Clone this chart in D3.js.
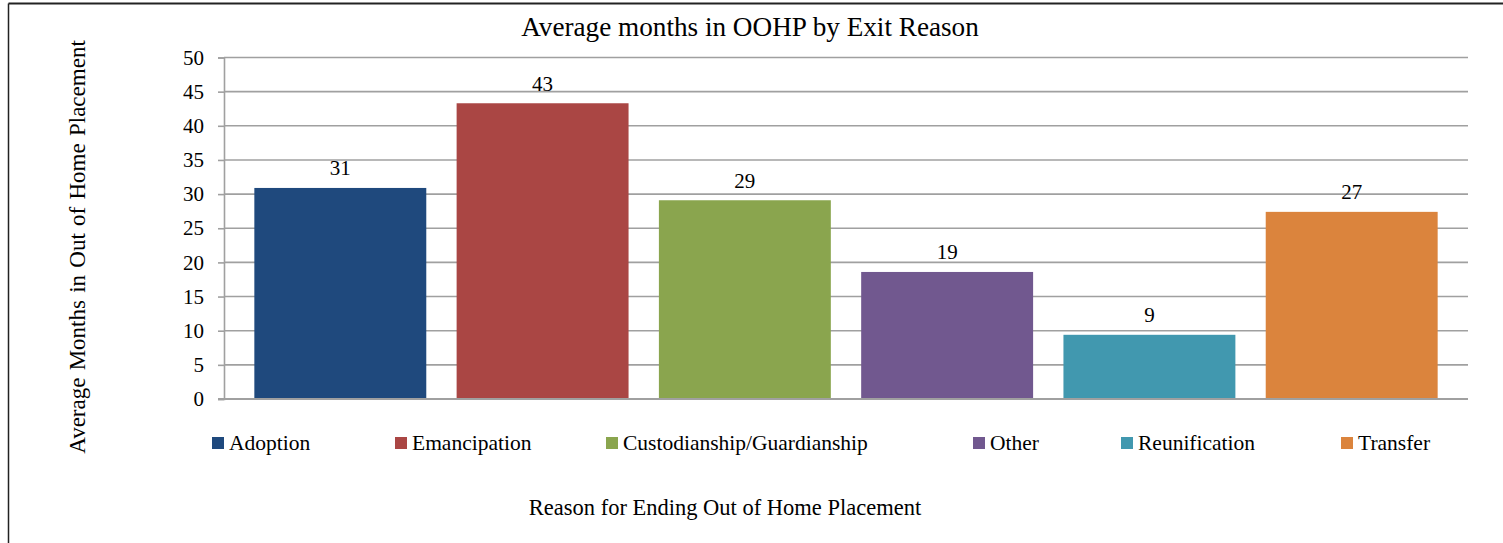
<!DOCTYPE html>
<html>
<head>
<meta charset="utf-8">
<script src="https://cdn.jsdelivr.net/npm/d3@7"></script>
<style>
  html, body { margin: 0; padding: 0; background: #fff; }
  svg { display: block; }
  text { font-family: "Liberation Serif", "Times New Roman", serif; fill: #000; }
</style>
</head>
<body>
<svg id="chart" width="1503" height="543"></svg>
<script>
// ---- data ----
const categories = ["Adoption", "Emancipation", "Custodianship/Guardianship", "Other", "Reunification", "Transfer"];
const values = [30.9, 43.3, 29.1, 18.6, 9.4, 27.4];
const valueLabels = ["31", "43", "29", "19", "9", "27"];
const colors = ["#1F497D", "#AA4644", "#8AA54E", "#71588F", "#4198AF", "#DB843D"];
const yTicks = [0, 5, 10, 15, 20, 25, 30, 35, 40, 45, 50];
const titleText = "Average months in OOHP by Exit Reason";
const yTitle = "Average Months in Out of Home Placement";
const xTitle = "Reason for Ending Out of Home Placement";

// ---- layout ----
const W = 1503, H = 543;
const plot = { left: 224, right: 1468, top: 57.5, bottom: 399 };
const legendX = [212, 395, 606, 973, 1121, 1341];
const legendY = 443;

const svg = d3.select("#chart");

// outer chart border (only top & left visible in frame)
svg.append("line").attr("x1", 8.5).attr("x2", W).attr("y1", 3.5).attr("y2", 3.5)
  .attr("stroke", "#222").attr("stroke-width", 2);
svg.append("line").attr("x1", 8.5).attr("x2", 8.5).attr("y1", 3.5).attr("y2", H)
  .attr("stroke", "#222").attr("stroke-width", 1.5);

const x = d3.scaleBand().domain(categories).range([plot.left, plot.right])
  .paddingInner(0.15).paddingOuter(0.15);
const y = d3.scaleLinear().domain([0, 50]).range([plot.bottom, plot.top]);

// gridlines
svg.append("g").selectAll("line").data(yTicks).join("line")
  .attr("x1", plot.left).attr("x2", plot.right)
  .attr("y1", d => y(d)).attr("y2", d => y(d))
  .attr("stroke", "#A0A0A0").attr("stroke-width", 1.6);

// y axis
const yAxis = d3.axisLeft(y).tickValues(yTicks).tickSize(6).tickPadding(14);
const gy = svg.append("g").attr("transform", `translate(${plot.left},0)`).call(yAxis);
gy.select(".domain").attr("stroke", "#A0A0A0").attr("stroke-width", 1.6);
gy.selectAll(".tick line").attr("stroke", "#A0A0A0").attr("stroke-width", 1.6);
gy.selectAll(".tick text").style("font-family", '"Liberation Serif", "Times New Roman", serif')
  .style("font-size", "21px").attr("fill", "#000");

// bars
svg.append("g").selectAll("rect").data(categories).join("rect")
  .attr("x", d => x(d)).attr("width", x.bandwidth())
  .attr("y", (d, i) => y(values[i])).attr("height", (d, i) => y(0) - y(values[i]))
  .attr("fill", (d, i) => colors[i]);

// baseline on top of bars
svg.append("line").attr("x1", plot.left - 6).attr("x2", plot.right)
  .attr("y1", y(0)).attr("y2", y(0)).attr("stroke", "#A0A0A0").attr("stroke-width", 1.8);

// value labels
svg.append("g").selectAll("text").data(categories).join("text")
  .attr("x", d => x(d) + x.bandwidth() / 2)
  .attr("y", (d, i) => y(values[i]) - 12.5)
  .attr("text-anchor", "middle").style("font-size", "21px")
  .text((d, i) => valueLabels[i]);

// title
svg.append("text").attr("x", 750).attr("y", 36).attr("text-anchor", "middle")
  .style("font-size", "27.2px").text(titleText);

// y axis title
svg.append("text").attr("transform", `translate(85,247) rotate(-90)`)
  .attr("text-anchor", "middle").style("font-size", "23px")
  .style("word-spacing", "1.5px").text(yTitle);

// x axis title
svg.append("text").attr("x", 725).attr("y", 515).attr("text-anchor", "middle")
  .style("font-size", "22.5px").text(xTitle);

// legend
const lg = svg.append("g").selectAll("g").data(categories).join("g")
  .attr("transform", (d, i) => `translate(${legendX[i]},${legendY})`);
lg.append("rect").attr("x", 0).attr("y", -6).attr("width", 12).attr("height", 12)
  .attr("fill", (d, i) => colors[i]);
lg.append("text").attr("x", 17).attr("y", 6.5).style("font-size", "21.5px").text(d => d);
</script>
</body>
</html>
